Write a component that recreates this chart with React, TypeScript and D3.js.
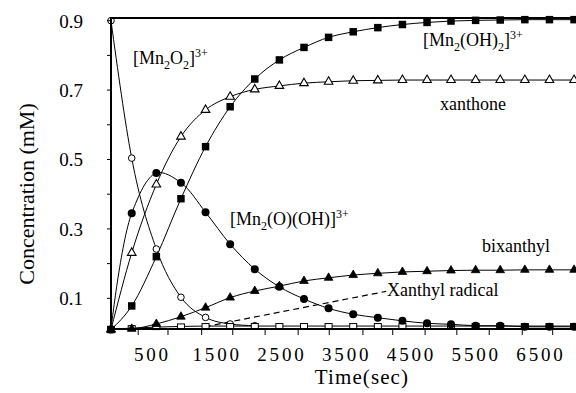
import React from 'react';
import * as d3 from 'd3';

// sampling times (s)
const times = [0, 320, 700, 1080, 1460, 1840, 2220, 2600, 2980, 3360, 3740, 4120, 4500, 4880, 5250, 5630, 6010, 6390, 6770, 7150];

// concentrations (mM)
const mn2o2 = [0.9, 0.504, 0.242, 0.103, 0.045, 0.026, 0.021];
const mn2oh2 = [0.01, 0.078, 0.22, 0.387, 0.537, 0.652, 0.732, 0.787, 0.823, 0.852, 0.868, 0.88, 0.889, 0.895, 0.899, 0.901, 0.902, 0.903, 0.903, 0.903];
const xanthone = [0.01, 0.231, 0.428, 0.566, 0.643, 0.681, 0.702, 0.712, 0.72, 0.724, 0.727, 0.728, 0.729, 0.729, 0.729, 0.729, 0.729, 0.729, 0.729, 0.729];
const mn2oooh = [0.01, 0.345, 0.461, 0.433, 0.348, 0.256, 0.184, 0.133, 0.098, 0.071, 0.054, 0.044, 0.035, 0.028, 0.025, 0.021, 0.021, 0.018, 0.018, 0.018];
const bixanthyl = [0.01, 0.012, 0.026, 0.047, 0.073, 0.102, 0.121, 0.135, 0.15, 0.159, 0.167, 0.172, 0.176, 0.178, 0.18, 0.181, 0.181, 0.182, 0.182, 0.182];
const xanthylRadical = [0.011, 0.014, 0.017, 0.019, 0.02, 0.02, 0.02, 0.02, 0.02, 0.02, 0.02, 0.02, 0.02, 0.02, 0.02, 0.02, 0.02, 0.02, 0.02, 0.02];

const yTicks = [0.1, 0.2, 0.3, 0.4, 0.5, 0.6, 0.7, 0.8, 0.9];
const yLabels = [0.1, 0.3, 0.5, 0.7, 0.9];
const xTicks = [420, 880, 1400, 1880, 2380, 2890, 3370, 3890, 4350, 4850, 5340, 5840, 6350, 6820];
const xLabels = [500, 1500, 2500, 3500, 4500, 5500, 6500];

// leader line for the xanthyl radical label, in data units
const leader = [[1450, 0.018], [4250, 0.12]];

const W = 576, H = 393;
const left = 111, top = 18, bottom = 329;
const font = '"Liberation Serif", "Times New Roman", serif';

const x = d3.scaleLinear().domain([0, 7180]).range([left, W]);
const y = d3.scaleLinear().domain([0, 0.9]).range([333, 20.7]);

const mkLine = (vals: number[], curve: any = d3.curveMonotoneX) =>
  d3.line<number>()
    .x((d, i) => x(times[i]))
    .y(d => y(d))
    .curve(curve)(vals) || '';

const tri = d3.symbol().type(d3.symbolTriangle).size(32)() || '';
const sq = d3.symbol().type(d3.symbolSquare).size(56)() || '';

const Sub = ({ children }: any) => <tspan fontSize={12} dy={5}>{children}</tspan>;

export default function App() {
  const pts = (vals: number[]) => vals.map((v, i) => [x(times[i]), y(v)]);
  return (
    <svg width={W} height={H} style={{ position: 'absolute', left: 0, top: 0, background: '#fff' }}
      fontFamily={font}>
      {/* curves */}
      <g fill="none" stroke="#000" strokeWidth={1}>
        {[mn2o2, mn2oh2, xanthone, bixanthyl, xanthylRadical].map((s, i) => (
          <path key={i} d={mkLine(s)} />
        ))}
        <path d={mkLine(mn2oooh, d3.curveCatmullRom.alpha(0.5))} />
        <line x1={x(leader[0][0])} y1={y(leader[0][1])} x2={x(leader[1][0])} y2={y(leader[1][1])}
          strokeDasharray="6,4" strokeWidth={1.2} />
      </g>

      {/* markers */}
      {pts(mn2o2).map(([px, py], i) => (
        <circle key={'a' + i} cx={px} cy={py} r={3.3} fill="#fff" stroke="#000" strokeWidth={1} />
      ))}
      {pts(xanthylRadical).map(([px, py], i) => (
        <rect key={'b' + i} x={px - 3.5} y={py - 2.5} width={7} height={5} fill="#fff" stroke="#000" strokeWidth={1} />
      ))}
      {pts(xanthone).map(([px, py], i) => (
        <path key={'c' + i} d={tri} transform={`translate(${px},${py})`} fill="#fff" stroke="#000" strokeWidth={1.1} />
      ))}
      {pts(bixanthyl).map(([px, py], i) => (
        <path key={'d' + i} d={tri} transform={`translate(${px},${py})`} fill="#000" stroke="#000" strokeWidth={0.8} />
      ))}
      {pts(mn2oooh).map(([px, py], i) => (
        <circle key={'e' + i} cx={px} cy={py} r={4} fill="#000" />
      ))}
      {pts(mn2oh2).map(([px, py], i) => (
        <path key={'f' + i} d={sq} transform={`translate(${px},${py})`} fill="#000" />
      ))}

      {/* frame */}
      <g stroke="#000" strokeWidth={2}>
        <line x1={left} x2={left} y1={top - 1} y2={bottom + 1} />
        <line x1={left} x2={W} y1={top} y2={top} />
        <line x1={left} x2={W} y1={bottom} y2={bottom} />
      </g>

      {/* ticks */}
      <g stroke="#000" strokeWidth={1}>
        {yTicks.map(t => <line key={t} x1={left - 4} x2={left} y1={y(t)} y2={y(t)} />)}
        {xTicks.map(t => <line key={t} x1={x(t)} x2={x(t)} y1={bottom} y2={bottom + 6} />)}
      </g>
      {yLabels.map(t => (
        <text key={t} x={83} y={y(t)} dy="0.36em" textAnchor="end" fontSize={19}>{d3.format('.1f')(t)}</text>
      ))}
      {xLabels.map(t => (
        <text key={t} x={x(t) + 9} y={361} textAnchor="middle" fontSize={19} letterSpacing={2.8}>{t}</text>
      ))}
      <text x={362} y={384} textAnchor="middle" fontSize={21} letterSpacing={1.1}>Time(sec)</text>
      <text transform="translate(34,194) rotate(-90)" textAnchor="middle" fontSize={22}>Concentration (mM)</text>

      {/* annotations */}
      <g fontSize={18}>
        <text x={133} y={64}>[Mn<Sub>2</Sub><tspan dy={-5}>O</tspan><Sub>2</Sub><tspan dy={-5}>]</tspan>
          <tspan fontSize={12} dy={-7}>3+</tspan></text>
        <text x={423} y={46}>[Mn<Sub>2</Sub><tspan dy={-5}>(OH)</tspan><Sub>2</Sub><tspan dy={-5}>]</tspan>
          <tspan fontSize={12} dy={-7}>3+</tspan></text>
        <text x={440} y={110}>xanthone</text>
        <text x={230} y={225}>[Mn<Sub>2</Sub><tspan dy={-5}>(O)(OH)]</tspan>
          <tspan fontSize={12} dy={-7}>3+</tspan></text>
        <text x={482} y={252}>bixanthyl</text>
        <text x={387} y={296}>Xanthyl radical</text>
      </g>
    </svg>
  );
}
